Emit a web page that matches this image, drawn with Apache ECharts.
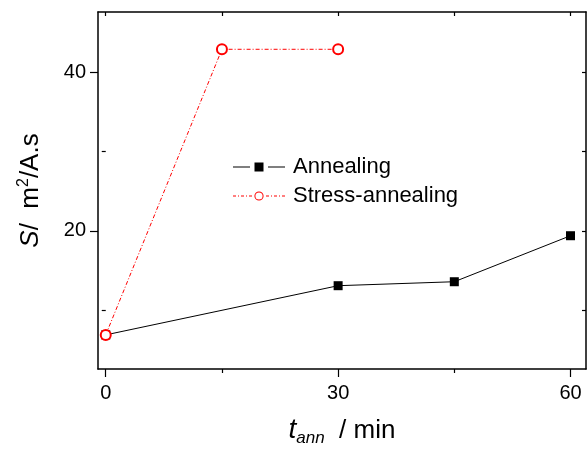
<!DOCTYPE html>
<html>
<head>
<meta charset="utf-8">
<script src="https://cdn.jsdelivr.net/npm/echarts@6/dist/echarts.min.js"></script>
<style>
  html, body { margin: 0; padding: 0; background: #fff; }
  #chart { width: 588px; height: 452px; }
</style>
</head>
<body>
<div id="chart"></div>
<script>
// Annealing time (min) and sensitivity S (m²/A.s)
const annealTimes = [0, 30, 45, 60];
const annealValues = [6.9, 13.1, 13.6, 19.4];
const stressTimes = [0, 15, 30];
const stressValues = [6.9, 42.9, 42.9];

const xMajorTicks = [0, 30, 60];
const xMinorTicks = [15, 45];
const xAllTicks = [0, 15, 30, 45, 60];
const yMajorTicks = [20, 40];
const yMinorTicks = [10, 30];
const yAllTicks = [10, 20, 30, 40];

const FONT = '"Liberation Sans", Arial, sans-serif';
const xRange = { min: -1, max: 62 };
const yRange = { min: 2.6, max: 47.6 };

function pairs(xs, ys) { return xs.map((x, i) => [x, ys[i]]); }

// Legend keys: line – marker – line, drawn in a 52 x 10 box
function ring(cx, cy, r, ri) {
  return 'M' + (cx + r) + ' ' + cy +
    ' A' + r + ' ' + r + ' 0 1 0 ' + (cx - r) + ' ' + cy +
    ' A' + r + ' ' + r + ' 0 1 0 ' + (cx + r) + ' ' + cy + ' Z' +
    ' M' + (cx + ri) + ' ' + cy +
    ' A' + ri + ' ' + ri + ' 0 1 1 ' + (cx - ri) + ' ' + cy +
    ' A' + ri + ' ' + ri + ' 0 1 1 ' + (cx + ri) + ' ' + cy + ' Z';
}
function seg(x0, x1, y0, y1) {
  return 'M' + x0 + ' ' + y0 + ' L' + x1 + ' ' + y0 + ' L' + x1 + ' ' + y1 + ' L' + x0 + ' ' + y1 + ' Z ';
}
const solidKey = 'path://' + seg(0, 17, 4.5, 5.5) + seg(21.5, 30.5, 0.5, 9.5) + seg(35, 52, 4.5, 5.5);
let dashKey = '';
[[0, 3], [5, 6], [8, 11], [13, 14], [16, 19]].forEach(d => { dashKey += seg(d[0], d[1], 4.6, 5.4); });
dashKey += ring(26, 5, 4.6, 3.6) + ' ';
[[33, 36], [38, 39], [41, 44], [46, 47], [49, 52]].forEach(d => { dashKey += seg(d[0], d[1], 4.6, 5.4); });
dashKey = 'path://' + dashKey;

const frameLine = { show: true, onZero: false, lineStyle: { color: '#000', width: 1.5 } };

function tickAxis(base, values, len, inside, showLine) {
  return {
    type: 'value',
    min: base.min, max: base.max,
    axisLine: showLine ? frameLine : { show: false },
    axisTick: { show: true, inside: inside, length: len, customValues: values,
                lineStyle: { color: '#000', width: 1.2 } },
    axisLabel: { show: false },
    splitLine: { show: false }
  };
}

const chart = echarts.init(document.getElementById('chart'), null, { renderer: 'canvas' });

const option = {
  backgroundColor: '#fff',
  animation: false,
  grid: { left: 98, right: 2, top: 12, bottom: 77, containLabel: false },
  legend: {
    orient: 'vertical',
    left: 233, top: 156, padding: 0,
    itemWidth: 52, itemHeight: 10, itemGap: 7,
    textStyle: { fontFamily: FONT, fontSize: 22, color: '#000', padding: [0, 0, 0, 3] },
    data: [
      { name: 'Annealing', icon: solidKey, itemStyle: { color: '#000', borderWidth: 0 } },
      { name: 'Stress-annealing', icon: dashKey, itemStyle: { color: '#ff0000', borderWidth: 0 } }
    ]
  },
  xAxis: [
    Object.assign(tickAxis(xRange, xMajorTicks, 8, false, true), {
      position: 'bottom',
      axisLabel: { show: true, customValues: xMajorTicks, margin: 14,
                   fontFamily: FONT, fontSize: 20, color: '#000' },
      name: '{it|t}{sub|ann}{n|  / min}',
      nameLocation: 'middle', nameGap: 45,
      nameTextStyle: {
        fontFamily: FONT, color: '#000',
        rich: {
          it: { fontFamily: FONT, fontSize: 28, fontStyle: 'italic', color: '#000' },
          sub: { fontFamily: FONT, fontSize: 17, fontStyle: 'italic', color: '#000', padding: [16, 0, 0, 0] },
          n: { fontFamily: FONT, fontSize: 26, color: '#000' }
        }
      }
    }),
    Object.assign(tickAxis(xRange, xMinorTicks, 4, false, false), { position: 'bottom' }),
    Object.assign(tickAxis(xRange, xAllTicks, 4, true, true), { position: 'top' })
  ],
  yAxis: [
    Object.assign(tickAxis(yRange, yMajorTicks, 8, false, true), {
      position: 'left',
      axisLabel: { show: true, customValues: yMajorTicks, margin: 12,
                   fontFamily: FONT, fontSize: 20, color: '#000' },
      name: '{it|S}{n|/  m}{sup|2}{n|/A.s}',
      nameLocation: 'middle', nameGap: 52, nameRotate: 90,
      nameTextStyle: {
        fontFamily: FONT, color: '#000',
        rich: {
          it: { fontFamily: FONT, fontSize: 26, fontStyle: 'italic', color: '#000' },
          n: { fontFamily: FONT, fontSize: 26, color: '#000' },
          sup: { fontFamily: FONT, fontSize: 16, color: '#000', padding: [0, 0, 14, 0] }
        }
      }
    }),
    Object.assign(tickAxis(yRange, yMinorTicks, 4, false, false), { position: 'left' }),
    Object.assign(tickAxis(yRange, yAllTicks, 4, true, true), { position: 'right' })
  ],
  series: [
    {
      name: 'Annealing',
      type: 'line',
      xAxisIndex: 0, yAxisIndex: 0,
      data: pairs(annealTimes, annealValues),
      symbol: 'rect', symbolSize: 9,
      color: '#000',
      lineStyle: { color: '#000', width: 1 },
      itemStyle: { color: '#000' },
      z: 3
    },
    {
      name: 'Stress-annealing',
      type: 'line',
      xAxisIndex: 0, yAxisIndex: 0,
      data: pairs(stressTimes, stressValues),
      symbol: 'emptyCircle', symbolSize: 10,
      color: '#ff0000',
      lineStyle: { color: '#ff0000', width: 1, type: [4, 2, 1, 2] },
      itemStyle: { color: '#ff0000', borderWidth: 1.2 },
      z: 4
    }
  ]
};

chart.setOption(option);
</script>
</body>
</html>
